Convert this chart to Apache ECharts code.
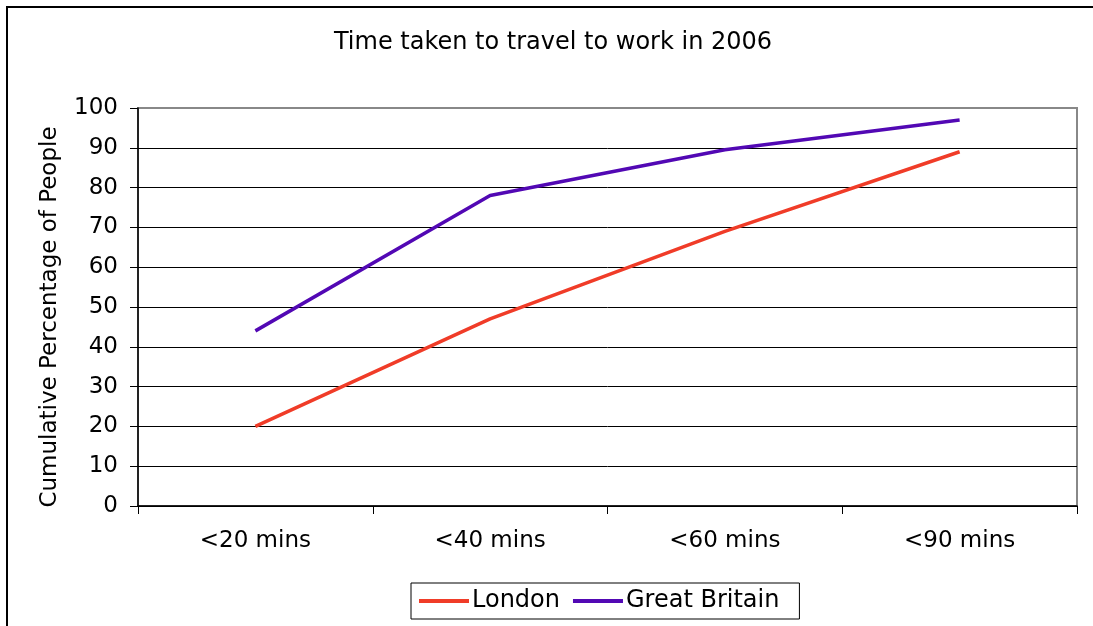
<!DOCTYPE html>
<html>
<head>
<meta charset="utf-8">
<script src="https://cdn.jsdelivr.net/npm/echarts@6/dist/echarts.min.js"></script>
<style>
html,body{margin:0;padding:0;background:#fff;}
#frame{position:absolute;left:6px;top:6px;width:1200px;height:700px;border-left:2px solid #000;border-top:2px solid #000;}
#chart{position:absolute;left:0;top:0;width:1093px;height:626px;}
</style>
</head>
<body>
<div id="frame"></div>
<div id="chart"></div>
<script>
const categories = ['<20 mins', '<40 mins', '<60 mins', '<90 mins'];
const london = [20, 47, 69, 89];
const greatBritain = [44, 78, 89.5, 97];
const yTicks = [0, 10, 20, 30, 40, 50, 60, 70, 80, 90, 100];

const font = 'DejaVu Sans, Verdana, sans-serif';
const splitColors = yTicks.map((v, i) => i === yTicks.length - 1 ? '#888' : '#000');
const chart = echarts.init(document.getElementById('chart'), null, {renderer: 'canvas'});
chart.setOption({
  animation: false,
  backgroundColor: 'transparent',
  title: {
    text: 'Time taken to travel to work in 2006',
    left: 548, top: 26, textAlign: 'center',
    textStyle: {fontFamily: font, fontSize: 24, fontWeight: 'normal', color: '#000'}
  },
  legend: {
    bottom: 7, left: 411,
    orient: 'horizontal',
    itemWidth: 50, itemHeight: 4, itemGap: 13,
    padding: [6, 20, 6, 8],
    borderColor: '#000', borderWidth: 1,
    icon: 'rect',
    textStyle: {fontFamily: font, fontSize: 24, color: '#000', padding: [0, 0, 0, -2]},
    data: ['London', 'Great Britain']
  },
  grid: {
    left: 138, right: 16, top: 108, bottom: 120,
    show: true, borderColor: '#888', borderWidth: 2, backgroundColor: 'transparent'
  },
  xAxis: {
    type: 'category', data: categories, boundaryGap: true,
    axisLine: {lineStyle: {color: '#000', width: 1.5}},
    axisTick: {show: true, length: 8, alignWithLabel: false, lineStyle: {color: '#000'}},
    axisLabel: {margin: 24, fontFamily: font, fontSize: 23, color: '#000'}
  },
  yAxis: {
    type: 'value', min: yTicks[0], max: yTicks[yTicks.length - 1], interval: 10,
    name: 'Cumulative Percentage of People', nameLocation: 'middle', nameGap: 76,
    nameTextStyle: {fontFamily: font, fontSize: 23, color: '#000', padding: [0, 20, 0, 0]},
    axisLine: {show: true, lineStyle: {color: '#000', width: 1.5}},
    axisTick: {show: true, length: 8, lineStyle: {color: '#000'}},
    axisLabel: {margin: 20, fontFamily: font, fontSize: 23, color: '#000'},
    splitLine: {show: true, lineStyle: {color: splitColors, width: 1}}
  },
  series: [
    {name: 'London', type: 'line', data: london, symbol: 'none',
     lineStyle: {color: '#f03c28', width: 3.5}, itemStyle: {color: '#f03c28'}},
    {name: 'Great Britain', type: 'line', data: greatBritain, symbol: 'none',
     lineStyle: {color: '#5208b4', width: 3.5}, itemStyle: {color: '#5208b4'}}
  ]
});
</script>
</body>
</html>
